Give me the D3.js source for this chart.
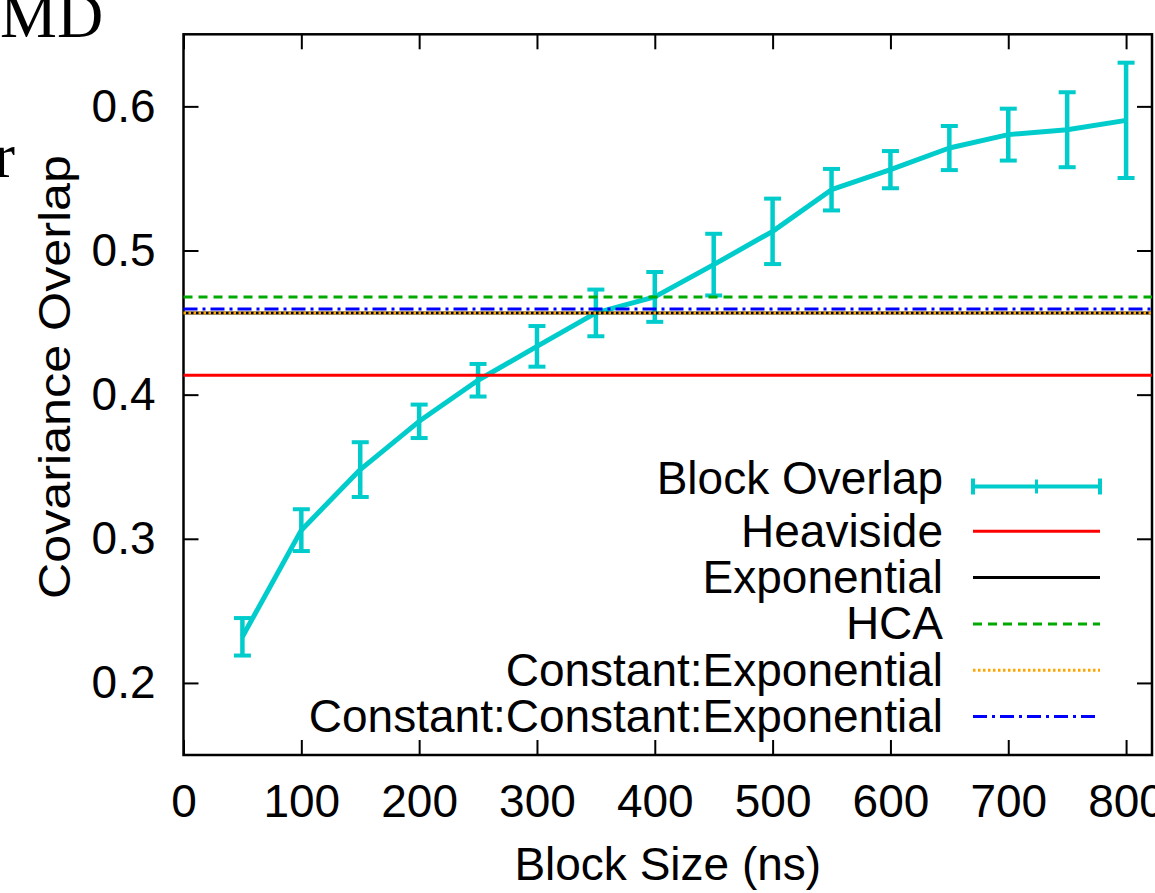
<!DOCTYPE html>
<html>
<head>
<meta charset="utf-8">
<script src="https://cdn.jsdelivr.net/npm/d3@7"></script>
<style>
  html, body { margin: 0; padding: 0; background: #fff; }
  svg { display: block; }
</style>
</head>
<body>
<svg id="chart"></svg>
<script>
// 数据：块大小与协方差重叠
const blockSizes = [50, 100, 150, 200, 250, 300, 350, 400, 450, 500, 550, 600, 650, 700, 750, 800];
const overlapMean = [0.232, 0.306, 0.348, 0.3815, 0.410, 0.4335, 0.4567, 0.4678, 0.4902, 0.5133, 0.5422, 0.5561, 0.5711, 0.5804, 0.5838, 0.5903];
const overlapErr = [0.013, 0.0145, 0.019, 0.0116, 0.0113, 0.0141, 0.0162, 0.0173, 0.0214, 0.0227, 0.0144, 0.0129, 0.0153, 0.018, 0.026, 0.040];

// 模型常数（水平线）
const modelNames = ['Heaviside', 'Exponential', 'HCA', 'Constant:Exponential', 'Constant:Constant:Exponential'];
const modelValues = [0.4134, 0.4567, 0.4678, 0.4567, 0.4595];

// 刻度
const xTicks = [0, 100, 200, 300, 400, 500, 600, 700, 800];
const yTicks = [0.2, 0.3, 0.4, 0.5, 0.6];

// 样式
const cyan = '#00cccc';
const modelStyles = [
    { color: '#ff0000', dash: null },
    { color: '#000000', dash: null },
    { color: '#00aa00', dash: '9,6' },
    { color: '#ffa500', dash: '2.5,2.5' },
    { color: '#0000ff', dash: '14,5,3,5' }
];
const font = '"Liberation Sans", Arial, Helvetica, sans-serif';

const W = 1155, H = 893;
const mLeft = 183.5, mRight = 1152, mTop = 34.3, mBottom = 755;

const svg = d3.select('#chart').attr('width', W).attr('height', H);

const x = d3.scaleLinear().domain([0, 822]).range([mLeft, mRight]);
const y = d3.scaleLinear().domain([0.15, 0.65]).range([mBottom, mTop]);

// 页面残留文字
svg.append('text').attr('x', 0).attr('y', 37)
    .attr('font-family', '"Liberation Serif", "DejaVu Serif", serif')
    .attr('font-size', 64).text('MD');
svg.append('text').attr('x', -6).attr('y', 177)
    .attr('font-family', '"Liberation Serif", "DejaVu Serif", serif')
    .attr('font-size', 63).text('r');

// 坐标轴
function styleAxis(g) {
    g.select('.domain').remove();
    g.selectAll('.tick line').attr('stroke', '#000').attr('stroke-width', 2);
    g.selectAll('.tick text').attr('font-family', font).attr('font-size', 46).attr('fill', '#000');
}

svg.append('g').attr('transform', `translate(0,${mBottom})`)
    .call(d3.axisBottom(x).tickValues(xTicks).tickSize(-15).tickPadding(29).tickFormat(d3.format('d')))
    .call(styleAxis);
svg.append('g').attr('transform', `translate(0,${mTop})`)
    .call(d3.axisTop(x).tickValues(xTicks).tickSize(-15).tickFormat(''))
    .call(styleAxis);
svg.append('g').attr('transform', `translate(${mLeft},0)`)
    .call(d3.axisLeft(y).tickValues(yTicks).tickSize(-15).tickPadding(28).tickFormat(d3.format('.1f')))
    .call(styleAxis);
svg.append('g').attr('transform', `translate(${mRight},0)`)
    .call(d3.axisRight(y).tickValues(yTicks).tickSize(-15).tickFormat(''))
    .call(styleAxis);

// 边框
svg.append('rect')
    .attr('x', mLeft).attr('y', mTop)
    .attr('width', mRight - mLeft).attr('height', mBottom - mTop)
    .attr('fill', 'none').attr('stroke', '#000').attr('stroke-width', 2.5);

// 坐标轴标题
svg.append('text')
    .attr('x', (mLeft + mRight) / 2).attr('y', 880)
    .attr('text-anchor', 'middle')
    .attr('font-family', font).attr('font-size', 46)
    .text('Block Size (ns)');
svg.append('text')
    .attr('transform', 'translate(70,377) rotate(-90)')
    .attr('text-anchor', 'middle')
    .attr('font-family', font).attr('font-size', 45)
    .attr('textLength', 444).attr('lengthAdjust', 'spacingAndGlyphs')
    .text('Covariance Overlap');

const plot = svg.append('g');

// Block Overlap 折线 + 误差棒
const pts = blockSizes.map((b, i) => ({ b, m: overlapMean[i], e: overlapErr[i] }));
plot.append('path')
    .datum(pts)
    .attr('fill', 'none').attr('stroke', cyan).attr('stroke-width', 5)
    .attr('stroke-linejoin', 'round')
    .attr('d', d3.line().x(d => x(d.b)).y(d => y(d.m)));

const bars = plot.append('g').selectAll('g').data(pts).join('g');
bars.append('line')
    .attr('x1', d => x(d.b)).attr('x2', d => x(d.b))
    .attr('y1', d => y(d.m - d.e)).attr('y2', d => y(d.m + d.e))
    .attr('stroke', cyan).attr('stroke-width', 4.5);
[-1, 1].forEach(s => {
    bars.append('line')
        .attr('x1', d => x(d.b) - 8.5).attr('x2', d => x(d.b) + 8.5)
        .attr('y1', d => y(d.m + s * d.e)).attr('y2', d => y(d.m + s * d.e))
        .attr('stroke', cyan).attr('stroke-width', 4);
});

// 水平模型线
modelValues.forEach((v, i) => {
    plot.append('line')
        .attr('x1', mLeft).attr('x2', mRight)
        .attr('y1', y(v)).attr('y2', y(v))
        .attr('stroke', modelStyles[i].color).attr('stroke-width', 3)
        .attr('stroke-dasharray', modelStyles[i].dash);
});

// 图例
const legendX = 943, lx1 = 973, lx2 = 1100;
const legendY0 = 485, legendStep = 46.3;
const legendNames = ['Block Overlap'].concat(modelNames);

const legend = svg.append('g');
legendNames.forEach((name, i) => {
    const ly = i === 0 ? 486.5 : legendY0 + i * legendStep;
    legend.append('text')
        .attr('x', legendX).attr('y', i === 0 ? 494 : ly + 15.5)
        .attr('text-anchor', 'end')
        .attr('font-family', font).attr('font-size', 46)
        .text(name);
    if (i === 0) {
        legend.append('line').attr('x1', lx1).attr('x2', lx2).attr('y1', ly).attr('y2', ly)
            .attr('stroke', cyan).attr('stroke-width', 4);
        [lx1, lx2].forEach(xx => legend.append('line')
            .attr('x1', xx).attr('x2', xx).attr('y1', ly - 8).attr('y2', ly + 8)
            .attr('stroke', cyan).attr('stroke-width', 4));
        legend.append('line')
            .attr('x1', (lx1 + lx2) / 2).attr('x2', (lx1 + lx2) / 2).attr('y1', ly - 7).attr('y2', ly + 7)
            .attr('stroke', cyan).attr('stroke-width', 3);
    } else {
        const st = modelStyles[i - 1];
        legend.append('line').attr('x1', lx1).attr('x2', lx2).attr('y1', ly).attr('y2', ly)
            .attr('stroke', st.color).attr('stroke-width', 3)
            .attr('stroke-dasharray', st.dash);
    }
});
</script>
</body>
</html>
